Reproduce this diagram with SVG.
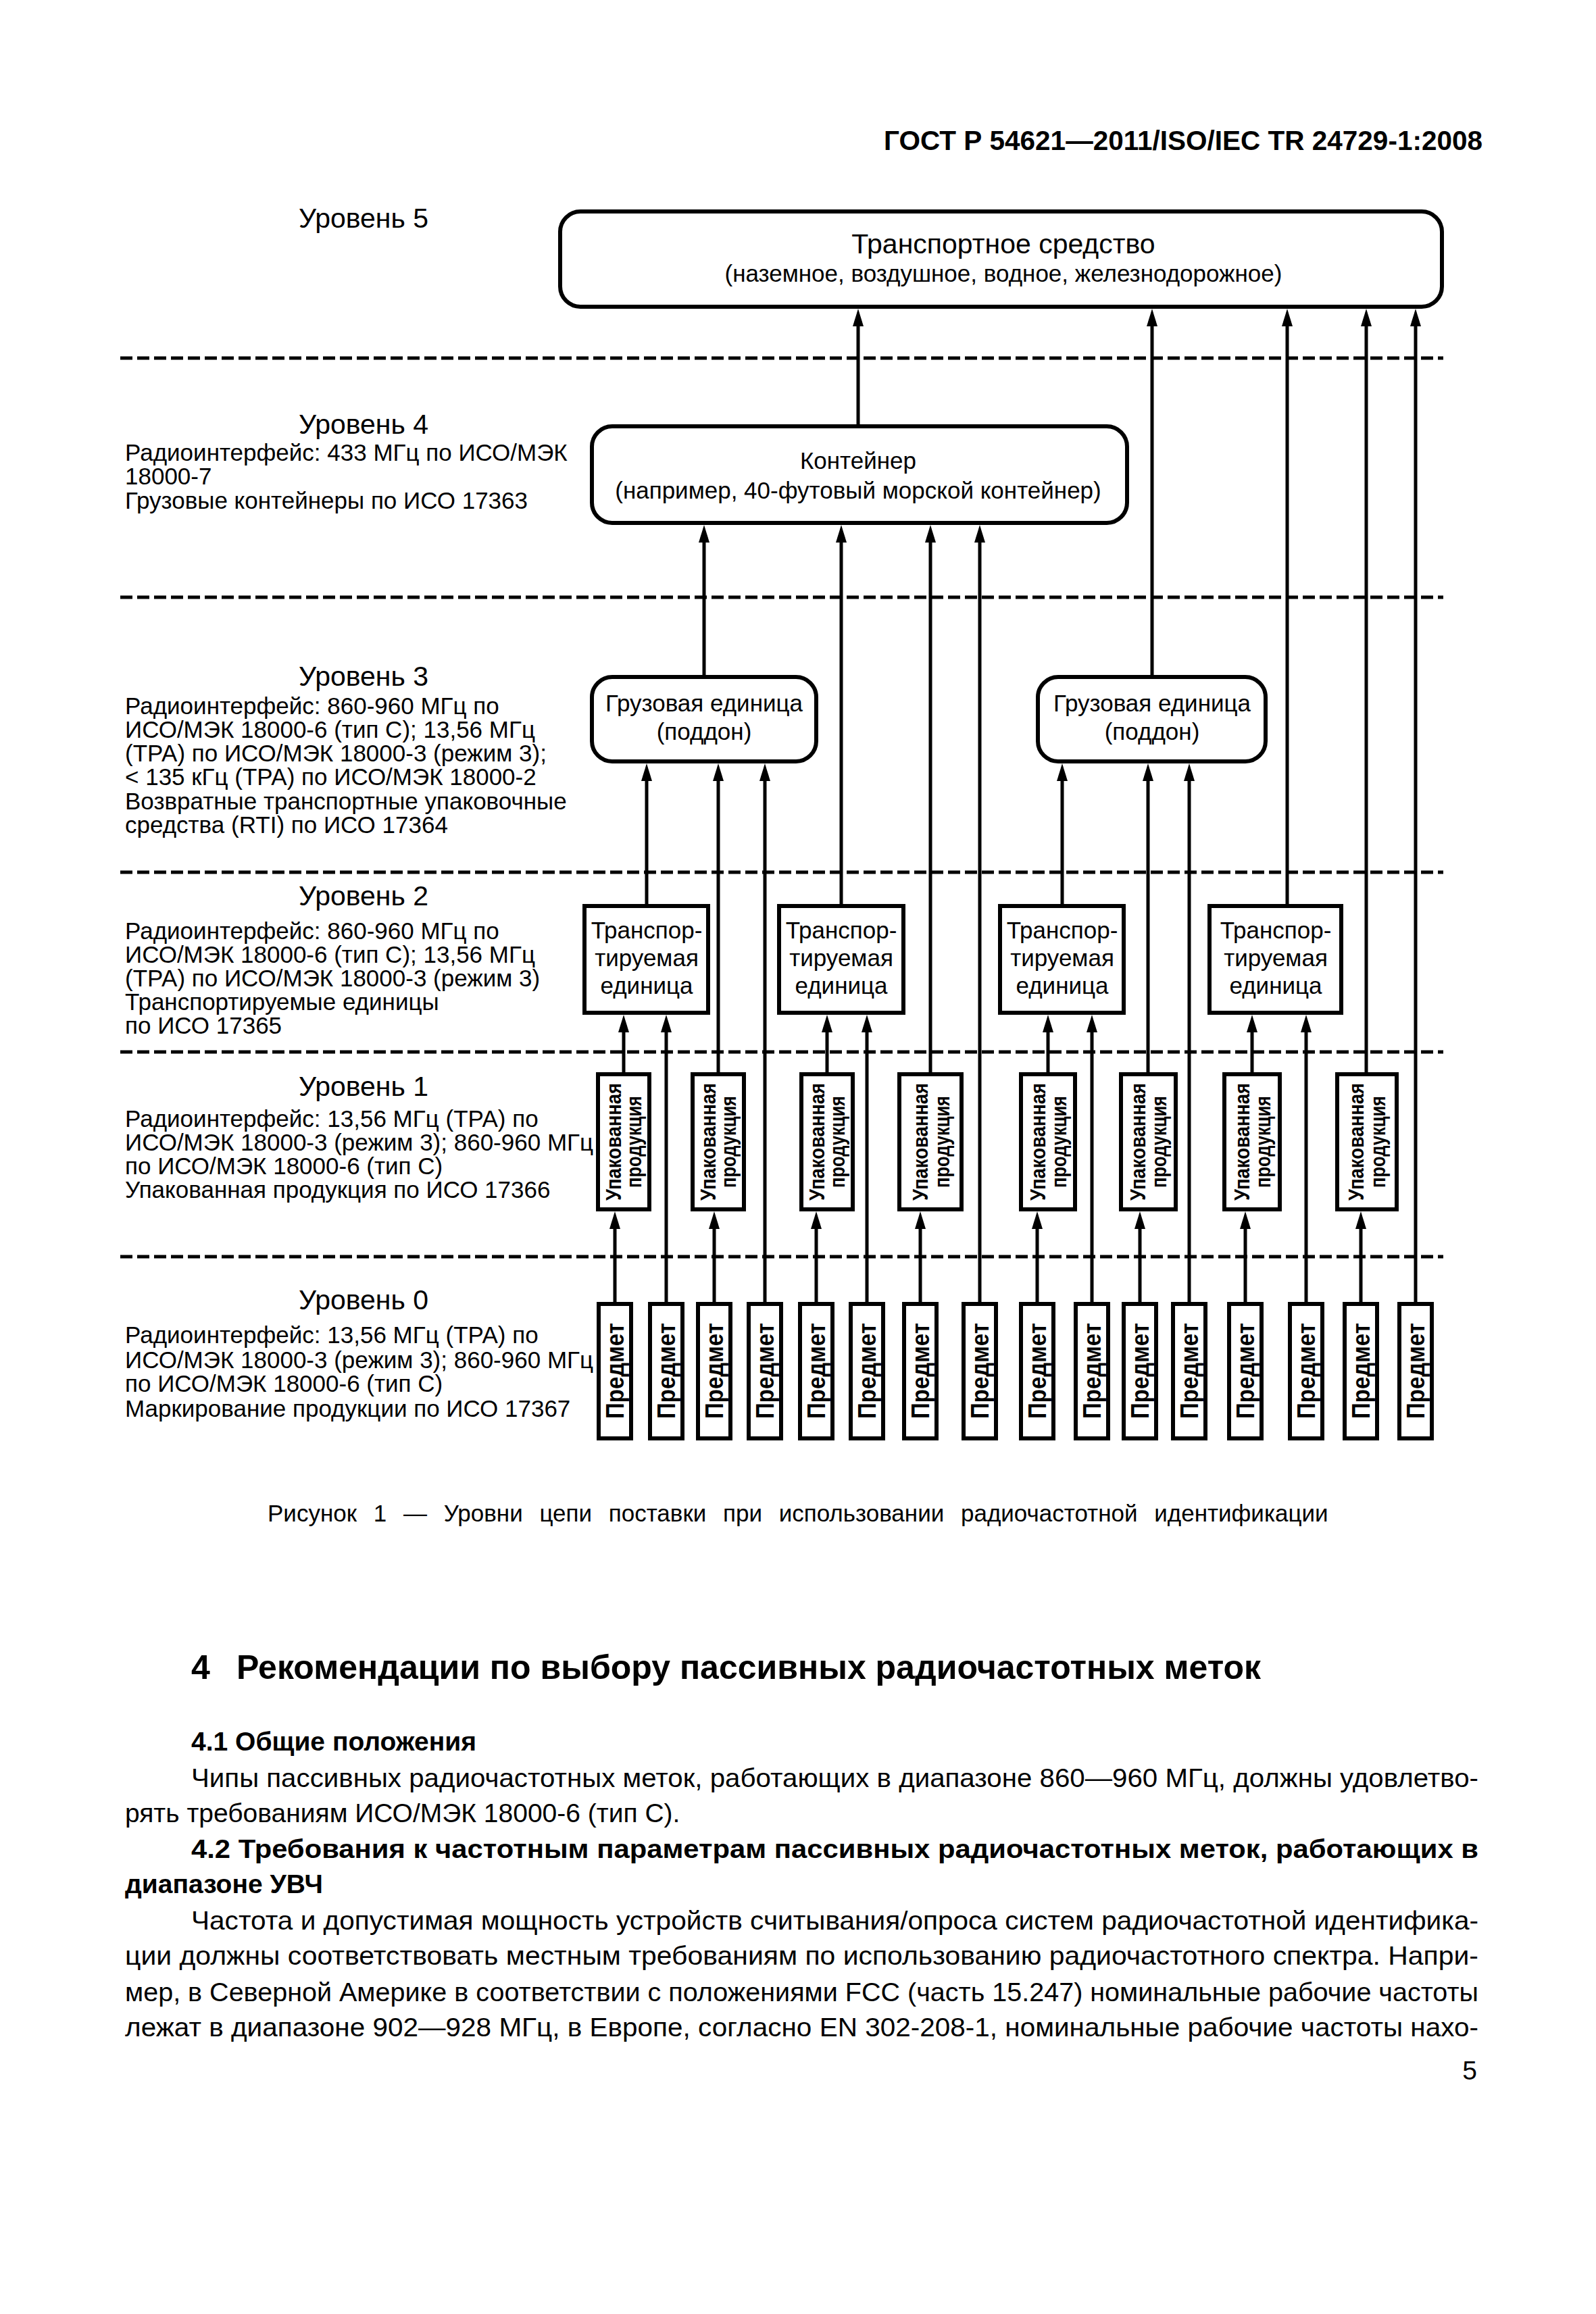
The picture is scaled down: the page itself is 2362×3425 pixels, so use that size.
<svg xmlns="http://www.w3.org/2000/svg" width="2362" height="3425" viewBox="0 0 2362 3425">
<style>
text{font-family:"Liberation Sans",Arial,sans-serif;fill:#000}
.hd{font-size:40.5px;font-weight:bold;text-anchor:end}
.lv{font-size:41px;text-anchor:middle}
.b{font-size:35px}
.c{font-size:35px;text-anchor:middle}
.cl{font-size:41px;text-anchor:middle}
.rb{font-size:31px;font-weight:bold;text-anchor:middle}
.pr{font-size:37px;font-weight:bold;text-anchor:middle}
.p{font-size:39px}
.pb{font-size:39px;font-weight:bold}
.h1{font-size:50px;font-weight:bold}
.cap{font-size:35px;word-spacing:15px}
.box{fill:#fff;stroke:#000;stroke-width:6}
.ln{stroke:#000;stroke-width:5;fill:none}
.dash{stroke:#000;stroke-width:5;stroke-dasharray:18 7;fill:none}
</style>
<defs>
<marker id="ah" viewBox="0 0 26 16" refX="6" refY="8" markerWidth="26" markerHeight="16" orient="auto" markerUnits="userSpaceOnUse"><path d="M0,0 L26,8 L0,16 Z" fill="#000"/></marker>
</defs>
<rect width="2362" height="3425" fill="#fff"/>
<text class="hd" x="2194" y="222">ГОСТ Р 54621—2011/ISO/IEC TR 24729-1:2008</text>

<g id="separators">
<line class="dash" x1="178" y1="530" x2="2136" y2="530"/>
<line class="dash" x1="178" y1="884" x2="2136" y2="884"/>
<line class="dash" x1="178" y1="1291" x2="2136" y2="1291"/>
<line class="dash" x1="178" y1="1557" x2="2136" y2="1557"/>
<line class="dash" x1="178" y1="1860" x2="2136" y2="1860"/>
</g>

<g id="level-labels">
<text class="lv" x="538" y="337">Уровень 5</text>
<text class="lv" x="538" y="642">Уровень 4</text>
<text class="b" x="185" y="682">Радиоинтерфейс: 433 МГц по ИСО/МЭК</text>
<text class="b" x="185" y="717">18000-7</text>
<text class="b" x="185" y="753">Грузовые контейнеры по ИСО 17363</text>
<text class="lv" x="538" y="1015">Уровень 3</text>
<text class="b" x="185" y="1057">Радиоинтерфейс: 860-960 МГц по</text>
<text class="b" x="185" y="1092">ИСО/МЭК 18000-6 (тип С); 13,56 МГц</text>
<text class="b" x="185" y="1127">(ТРА) по ИСО/МЭК 18000-3 (режим 3);</text>
<text class="b" x="185" y="1162">&lt; 135 кГц (ТРА) по ИСО/МЭК 18000-2</text>
<text class="b" x="185" y="1198">Возвратные транспортные упаковочные</text>
<text class="b" x="185" y="1233">средства (RTI) по ИСО 17364</text>
<text class="lv" x="538" y="1340">Уровень 2</text>
<text class="b" x="185" y="1390">Радиоинтерфейс: 860-960 МГц по</text>
<text class="b" x="185" y="1425">ИСО/МЭК 18000-6 (тип С); 13,56 МГц</text>
<text class="b" x="185" y="1460">(ТРА) по ИСО/МЭК 18000-3 (режим 3)</text>
<text class="b" x="185" y="1495">Транспортируемые единицы</text>
<text class="b" x="185" y="1530">по ИСО 17365</text>
<text class="lv" x="538" y="1622">Уровень 1</text>
<text class="b" x="185" y="1668">Радиоинтерфейс: 13,56 МГц (ТРА) по</text>
<text class="b" x="185" y="1703">ИСО/МЭК 18000-3 (режим 3); 860-960 МГц</text>
<text class="b" x="185" y="1738">по ИСО/МЭК 18000-6 (тип С)</text>
<text class="b" x="185" y="1773">Упакованная продукция по ИСО 17366</text>
<text class="lv" x="538" y="1938">Уровень 0</text>
<text class="b" x="185" y="1988">Радиоинтерфейс: 13,56 МГц (ТРА) по</text>
<text class="b" x="185" y="2025">ИСО/МЭК 18000-3 (режим 3); 860-960 МГц</text>
<text class="b" x="185" y="2060">по ИСО/МЭК 18000-6 (тип С)</text>
<text class="b" x="185" y="2097">Маркирование продукции по ИСО 17367</text>
</g>

<g id="connectors">
<line class="ln" x1="1270" y1="628" x2="1270" y2="477" marker-end="url(#ah)"/>
<line class="ln" x1="1705" y1="999" x2="1705" y2="477" marker-end="url(#ah)"/>
<line class="ln" x1="1905" y1="1338" x2="1905" y2="477" marker-end="url(#ah)"/>
<line class="ln" x1="2022" y1="1587" x2="2022" y2="477" marker-end="url(#ah)"/>
<line class="ln" x1="2095" y1="1927" x2="2095" y2="477" marker-end="url(#ah)"/>
<line class="ln" x1="1042" y1="999" x2="1042" y2="797" marker-end="url(#ah)"/>
<line class="ln" x1="1245" y1="1338" x2="1245" y2="797" marker-end="url(#ah)"/>
<line class="ln" x1="1377" y1="1587" x2="1377" y2="797" marker-end="url(#ah)"/>
<line class="ln" x1="1450" y1="1927" x2="1450" y2="797" marker-end="url(#ah)"/>
<line class="ln" x1="957" y1="1338" x2="957" y2="1150" marker-end="url(#ah)"/>
<line class="ln" x1="1063" y1="1587" x2="1063" y2="1150" marker-end="url(#ah)"/>
<line class="ln" x1="1132" y1="1927" x2="1132" y2="1150" marker-end="url(#ah)"/>
<line class="ln" x1="1572" y1="1338" x2="1572" y2="1150" marker-end="url(#ah)"/>
<line class="ln" x1="1699" y1="1587" x2="1699" y2="1150" marker-end="url(#ah)"/>
<line class="ln" x1="1760" y1="1927" x2="1760" y2="1150" marker-end="url(#ah)"/>
<line class="ln" x1="923" y1="1587" x2="923" y2="1522" marker-end="url(#ah)"/>
<line class="ln" x1="986" y1="1927" x2="986" y2="1522" marker-end="url(#ah)"/>
<line class="ln" x1="1224" y1="1587" x2="1224" y2="1522" marker-end="url(#ah)"/>
<line class="ln" x1="1283" y1="1927" x2="1283" y2="1522" marker-end="url(#ah)"/>
<line class="ln" x1="1551" y1="1587" x2="1551" y2="1522" marker-end="url(#ah)"/>
<line class="ln" x1="1616" y1="1927" x2="1616" y2="1522" marker-end="url(#ah)"/>
<line class="ln" x1="1853" y1="1587" x2="1853" y2="1522" marker-end="url(#ah)"/>
<line class="ln" x1="1933" y1="1927" x2="1933" y2="1522" marker-end="url(#ah)"/>
<line class="ln" x1="910" y1="1927" x2="910" y2="1813" marker-end="url(#ah)"/>
<line class="ln" x1="1057" y1="1927" x2="1057" y2="1813" marker-end="url(#ah)"/>
<line class="ln" x1="1208" y1="1927" x2="1208" y2="1813" marker-end="url(#ah)"/>
<line class="ln" x1="1362" y1="1927" x2="1362" y2="1813" marker-end="url(#ah)"/>
<line class="ln" x1="1535" y1="1927" x2="1535" y2="1813" marker-end="url(#ah)"/>
<line class="ln" x1="1687" y1="1927" x2="1687" y2="1813" marker-end="url(#ah)"/>
<line class="ln" x1="1843" y1="1927" x2="1843" y2="1813" marker-end="url(#ah)"/>
<line class="ln" x1="2014" y1="1927" x2="2014" y2="1813" marker-end="url(#ah)"/>
</g>

<g id="vehicle">
<rect class="box" x="829" y="313" width="1305" height="141" rx="30"/>
<text class="cl" x="1485" y="375">Транспортное средство</text>
<text class="c" x="1485" y="417">(наземное, воздушное, водное, железнодорожное)</text>
</g>
<g id="container">
<rect class="box" x="876" y="631" width="792" height="143" rx="30"/>
<text class="c" x="1270" y="694">Контейнер</text>
<text class="c" x="1270" y="738">(например, 40-футовый морской контейнер)</text>
</g>
<g id="cargo-1">
<rect class="box" x="876" y="1002" width="332" height="125" rx="30"/>
<text class="c" x="1042" y="1053">Грузовая единица</text>
<text class="c" x="1042" y="1095">(поддон)</text>
</g>
<g id="cargo-2">
<rect class="box" x="1536" y="1002" width="337" height="125" rx="30"/>
<text class="c" x="1705" y="1053">Грузовая единица</text>
<text class="c" x="1705" y="1095">(поддон)</text>
</g>

<g id="tu-1">
<rect class="box" x="865" y="1341" width="183" height="158"/>
<text class="c" x="957" y="1389">Транспор-</text><text class="c" x="957" y="1430">тируемая</text><text class="c" x="957" y="1471">единица</text>
</g>
<g id="tu-2">
<rect class="box" x="1153" y="1341" width="184" height="158"/>
<text class="c" x="1245" y="1389">Транспор-</text><text class="c" x="1245" y="1430">тируемая</text><text class="c" x="1245" y="1471">единица</text>
</g>
<g id="tu-3">
<rect class="box" x="1480" y="1341" width="183" height="158"/>
<text class="c" x="1572" y="1389">Транспор-</text><text class="c" x="1572" y="1430">тируемая</text><text class="c" x="1572" y="1471">единица</text>
</g>
<g id="tu-4">
<rect class="box" x="1790" y="1341" width="195" height="158"/>
<text class="c" x="1888" y="1389">Транспор-</text><text class="c" x="1888" y="1430">тируемая</text><text class="c" x="1888" y="1471">единица</text>
</g>

<g id="pack-1"><rect class="box" x="885" y="1590" width="76" height="200"/>
<text class="rb" transform="translate(919,1690) rotate(-90)" textLength="174" lengthAdjust="spacingAndGlyphs">Упакованная</text>
<text class="rb" transform="translate(949,1690) rotate(-90)" textLength="136" lengthAdjust="spacingAndGlyphs">продукция</text></g>
<g id="pack-2"><rect class="box" x="1025" y="1590" width="76" height="200"/>
<text class="rb" transform="translate(1059,1690) rotate(-90)" textLength="174" lengthAdjust="spacingAndGlyphs">Упакованная</text>
<text class="rb" transform="translate(1089,1690) rotate(-90)" textLength="136" lengthAdjust="spacingAndGlyphs">продукция</text></g>
<g id="pack-3"><rect class="box" x="1186" y="1590" width="76" height="200"/>
<text class="rb" transform="translate(1220,1690) rotate(-90)" textLength="174" lengthAdjust="spacingAndGlyphs">Упакованная</text>
<text class="rb" transform="translate(1250,1690) rotate(-90)" textLength="136" lengthAdjust="spacingAndGlyphs">продукция</text></g>
<g id="pack-4"><rect class="box" x="1331" y="1590" width="92" height="200"/>
<text class="rb" transform="translate(1373,1690) rotate(-90)" textLength="174" lengthAdjust="spacingAndGlyphs">Упакованная</text>
<text class="rb" transform="translate(1405,1690) rotate(-90)" textLength="136" lengthAdjust="spacingAndGlyphs">продукция</text></g>
<g id="pack-5"><rect class="box" x="1511" y="1590" width="80" height="200"/>
<text class="rb" transform="translate(1547,1690) rotate(-90)" textLength="174" lengthAdjust="spacingAndGlyphs">Упакованная</text>
<text class="rb" transform="translate(1578,1690) rotate(-90)" textLength="136" lengthAdjust="spacingAndGlyphs">продукция</text></g>
<g id="pack-6"><rect class="box" x="1659" y="1590" width="81" height="200"/>
<text class="rb" transform="translate(1695,1690) rotate(-90)" textLength="174" lengthAdjust="spacingAndGlyphs">Упакованная</text>
<text class="rb" transform="translate(1726,1690) rotate(-90)" textLength="136" lengthAdjust="spacingAndGlyphs">продукция</text></g>
<g id="pack-7"><rect class="box" x="1812" y="1590" width="82" height="200"/>
<text class="rb" transform="translate(1849,1690) rotate(-90)" textLength="174" lengthAdjust="spacingAndGlyphs">Упакованная</text>
<text class="rb" transform="translate(1880,1690) rotate(-90)" textLength="136" lengthAdjust="spacingAndGlyphs">продукция</text></g>
<g id="pack-8"><rect class="box" x="1979" y="1590" width="88" height="200"/>
<text class="rb" transform="translate(2018,1690) rotate(-90)" textLength="174" lengthAdjust="spacingAndGlyphs">Упакованная</text>
<text class="rb" transform="translate(2050,1690) rotate(-90)" textLength="136" lengthAdjust="spacingAndGlyphs">продукция</text></g>

<g id="item-1"><rect class="box" x="886" y="1930" width="48" height="199"/><text class="pr" transform="translate(923,2029) rotate(-90)" textLength="142" lengthAdjust="spacingAndGlyphs">Предмет</text></g>
<g id="item-2"><rect class="box" x="962" y="1930" width="48" height="199"/><text class="pr" transform="translate(999,2029) rotate(-90)" textLength="142" lengthAdjust="spacingAndGlyphs">Предмет</text></g>
<g id="item-3"><rect class="box" x="1033" y="1930" width="48" height="199"/><text class="pr" transform="translate(1070,2029) rotate(-90)" textLength="142" lengthAdjust="spacingAndGlyphs">Предмет</text></g>
<g id="item-4"><rect class="box" x="1108" y="1930" width="48" height="199"/><text class="pr" transform="translate(1145,2029) rotate(-90)" textLength="142" lengthAdjust="spacingAndGlyphs">Предмет</text></g>
<g id="item-5"><rect class="box" x="1184" y="1930" width="48" height="199"/><text class="pr" transform="translate(1221,2029) rotate(-90)" textLength="142" lengthAdjust="spacingAndGlyphs">Предмет</text></g>
<g id="item-6"><rect class="box" x="1259" y="1930" width="48" height="199"/><text class="pr" transform="translate(1296,2029) rotate(-90)" textLength="142" lengthAdjust="spacingAndGlyphs">Предмет</text></g>
<g id="item-7"><rect class="box" x="1338" y="1930" width="48" height="199"/><text class="pr" transform="translate(1375,2029) rotate(-90)" textLength="142" lengthAdjust="spacingAndGlyphs">Предмет</text></g>
<g id="item-8"><rect class="box" x="1426" y="1930" width="48" height="199"/><text class="pr" transform="translate(1463,2029) rotate(-90)" textLength="142" lengthAdjust="spacingAndGlyphs">Предмет</text></g>
<g id="item-9"><rect class="box" x="1511" y="1930" width="48" height="199"/><text class="pr" transform="translate(1548,2029) rotate(-90)" textLength="142" lengthAdjust="spacingAndGlyphs">Предмет</text></g>
<g id="item-10"><rect class="box" x="1592" y="1930" width="48" height="199"/><text class="pr" transform="translate(1629,2029) rotate(-90)" textLength="142" lengthAdjust="spacingAndGlyphs">Предмет</text></g>
<g id="item-11"><rect class="box" x="1663" y="1930" width="48" height="199"/><text class="pr" transform="translate(1700,2029) rotate(-90)" textLength="142" lengthAdjust="spacingAndGlyphs">Предмет</text></g>
<g id="item-12"><rect class="box" x="1736" y="1930" width="48" height="199"/><text class="pr" transform="translate(1773,2029) rotate(-90)" textLength="142" lengthAdjust="spacingAndGlyphs">Предмет</text></g>
<g id="item-13"><rect class="box" x="1819" y="1930" width="48" height="199"/><text class="pr" transform="translate(1856,2029) rotate(-90)" textLength="142" lengthAdjust="spacingAndGlyphs">Предмет</text></g>
<g id="item-14"><rect class="box" x="1909" y="1930" width="48" height="199"/><text class="pr" transform="translate(1946,2029) rotate(-90)" textLength="142" lengthAdjust="spacingAndGlyphs">Предмет</text></g>
<g id="item-15"><rect class="box" x="1990" y="1930" width="48" height="199"/><text class="pr" transform="translate(2027,2029) rotate(-90)" textLength="142" lengthAdjust="spacingAndGlyphs">Предмет</text></g>
<g id="item-16"><rect class="box" x="2071" y="1930" width="48" height="199"/><text class="pr" transform="translate(2108,2029) rotate(-90)" textLength="142" lengthAdjust="spacingAndGlyphs">Предмет</text></g>

<g id="page-text">
<text class="cap" x="396" y="2252">Рисунок 1 — Уровни цепи поставки при использовании радиочастотной идентификации</text>
<text class="h1" x="283" y="2485">4</text>
<text class="h1" x="350" y="2485">Рекомендации по выбору пассивных радиочастотных меток</text>
<text class="pb" x="283" y="2591">4.1 Общие положения</text>
<text class="p" x="283" y="2645" textLength="1905" lengthAdjust="spacingAndGlyphs">Чипы пассивных радиочастотных меток, работающих в диапазоне 860—960 МГц, должны удовлетво-</text>
<text class="p" x="185" y="2697">рять требованиям ИСО/МЭК 18000-6 (тип С).</text>
<text class="pb" x="283" y="2750" textLength="1905" lengthAdjust="spacingAndGlyphs">4.2 Требования к частотным параметрам пассивных радиочастотных меток, работающих в</text>
<text class="pb" x="185" y="2802">диапазоне УВЧ</text>
<text class="p" x="283" y="2856" textLength="1905" lengthAdjust="spacingAndGlyphs">Частота и допустимая мощность устройств считывания/опроса систем радиочастотной идентифика-</text>
<text class="p" x="185" y="2908" textLength="2003" lengthAdjust="spacingAndGlyphs">ции должны соответствовать местным требованиям по использованию радиочастотного спектра. Напри-</text>
<text class="p" x="185" y="2962" textLength="2003" lengthAdjust="spacingAndGlyphs">мер, в Северной Америке в соответствии с положениями FCC (часть 15.247) номинальные рабочие частоты</text>
<text class="p" x="185" y="3014" textLength="2003" lengthAdjust="spacingAndGlyphs">лежат в диапазоне 902—928 МГц, в Европе, согласно EN 302-208-1, номинальные рабочие частоты нахо-</text>
<text class="p" x="2186" y="3078" text-anchor="end">5</text>
</g>
</svg>
